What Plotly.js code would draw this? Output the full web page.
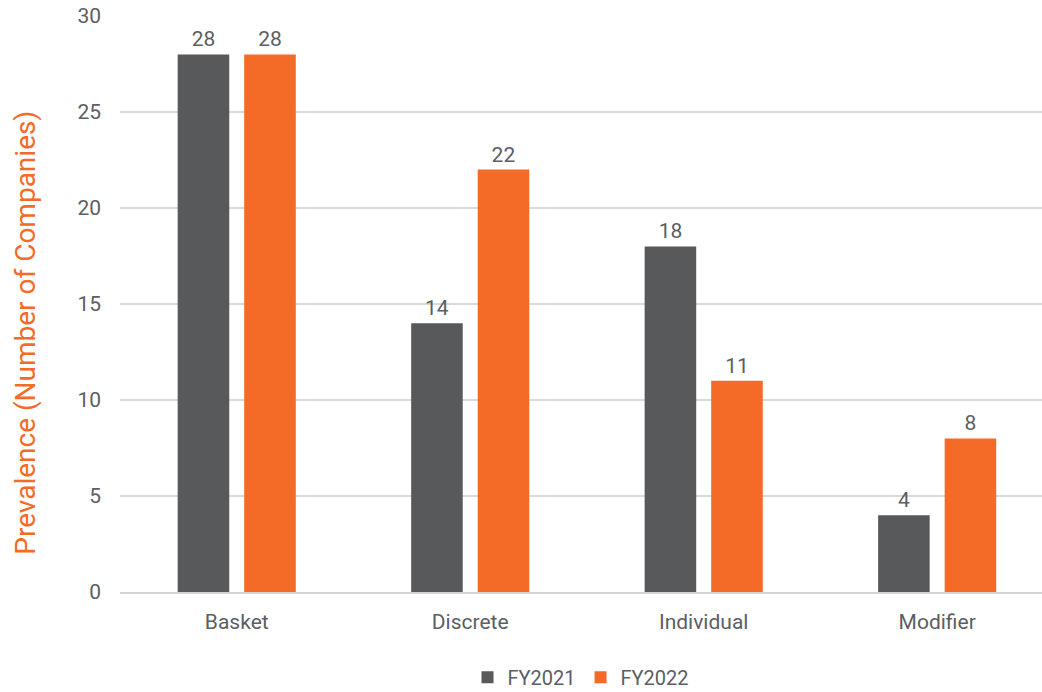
<!DOCTYPE html>
<html>
<head>
<meta charset="utf-8">
<script src="https://cdn.plot.ly/plotly-3.0.1.min.js"></script>
<style>html,body{margin:0;padding:0;background:#fff;}#chart{width:1042px;height:692px;}</style>
</head>
<body>
<div id="chart"></div>
<script>
const categories = ["Basket", "Discrete", "Individual", "Modifier"];
const fy2021 = [28, 14, 18, 4];
const fy2022 = [28, 22, 11, 8];
const seriesNames = ["FY2021", "FY2022"];
const yTicks = [0, 5, 10, 15, 20, 25, 30];

const textColor = "#5b5e63";
const font = "Roboto, 'Open Sans', sans-serif";

const traces = [
  {type: "bar", name: seriesNames[0], x: categories, y: fy2021,
   marker: {color: "#58595b"}, text: fy2021, textposition: "outside",
   textfont: {color: textColor, size: 21, family: font}, cliponaxis: false},
  {type: "bar", name: seriesNames[1], x: categories, y: fy2022,
   marker: {color: "#f36b26"}, text: fy2022, textposition: "outside",
   textfont: {color: textColor, size: 21, family: font}, cliponaxis: false}
];

const layout = {
  width: 1042, height: 692,
  margin: {l: 120, r: 0, t: 16, b: 100, autoexpand: false},
  paper_bgcolor: "#fff", plot_bgcolor: "#fff",
  font: {family: font, color: textColor, size: 21},
  barmode: "group", bargap: 0.43, bargroupgap: 0.225,
  xaxis: {type: "category", range: [-0.5, 3.449], showgrid: false,
          showline: true, linecolor: "#d4d4d4", linewidth: 2, automargin: false,
          ticks: "", tickfont: {size: 21, color: textColor}, ticklabelstandoff: 10},
  yaxis: {range: [0, 30], tickvals: yTicks, showgrid: true, gridcolor: "#d9d9d9", gridwidth: 2,
          zeroline: false, showline: false, ticks: "", ticklabelstandoff: 18,
          tickfont: {size: 21, color: textColor}, automargin: false,
          title: {text: ""}},
  annotations: [{text: "Prevalence (Number of Companies)", textangle: -90,
     xref: "paper", yref: "paper", x: -0.102, y: 0.45, xanchor: "center", yanchor: "middle",
     showarrow: false, font: {size: 28, color: "#f36b26", family: font}}],
  legend: {orientation: "h", x: 0.5, xanchor: "center", y: -0.114, yanchor: "top",
           font: {size: 20, color: textColor}, itemwidth: 30, traceorder: "normal"},
  showlegend: true
};

Plotly.newPlot("chart", traces, layout, {displayModeBar: false, staticPlot: true});
</script>
</body>
</html>
